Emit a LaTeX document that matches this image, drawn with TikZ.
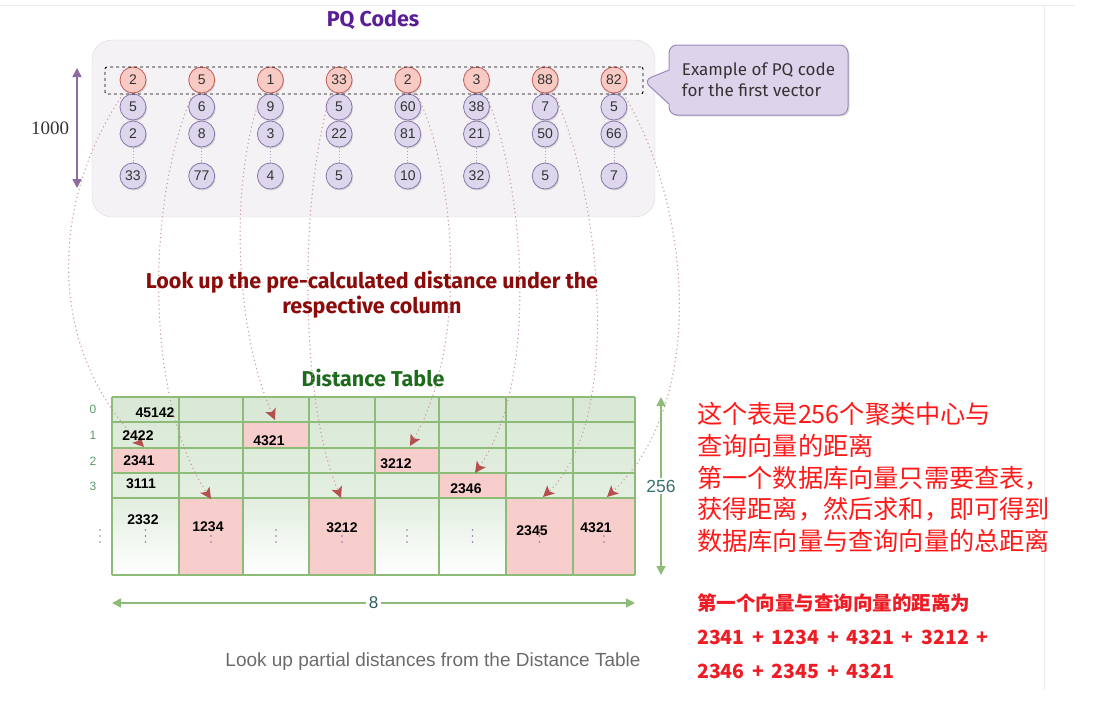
\documentclass[tikz,border=0pt]{standalone}
\usepackage{fontspec}
\setmainfont{Liberation Sans}
\newfontfamily\handfont{Fira Sans}
\newfontfamily\serifnum{Liberation Serif}
\newfontfamily\cjk{Noto Sans CJK SC}
\usepackage{xcolor}
\usepackage{tikz}
\usetikzlibrary{calc,arrows.meta,shapes.callouts,shadows}

\definecolor{pqpurple}{HTML}{5A1E96}
\definecolor{boxgray}{HTML}{F5F2F6}
\definecolor{boxedge}{HTML}{DDDADF}
\definecolor{codered}{HTML}{F8CAC4}
\definecolor{codeedge}{HTML}{C25A55}
\definecolor{lav}{HTML}{DDD6EC}
\definecolor{lavedge}{HTML}{8878A8}
\definecolor{notefill}{HTML}{DDD3EB}
\definecolor{noteedge}{HTML}{9D88BC}
\definecolor{sizepurple}{HTML}{8C6BA0}
\definecolor{lookred}{HTML}{8B0A0A}
\definecolor{tablegreen}{HTML}{8DBB78}
\definecolor{tablefill}{HTML}{D8E8D5}
\definecolor{hitpink}{HTML}{F8CECC}
\definecolor{titlegreen}{HTML}{1E6B1E}
\definecolor{dotred}{HTML}{C99A9A}
\definecolor{tipred}{HTML}{B5504E}
\definecolor{rowgreen}{HTML}{5A9A6A}
\definecolor{sizeteal}{HTML}{3A7070}
\definecolor{captiongray}{HTML}{6B6B6B}
\definecolor{cnred}{HTML}{FF1A1A}
\definecolor{cnbold}{HTML}{EE1C25}

\newcommand{\sumplus}{\hspace{7.7pt}+\hspace{7.7pt}}

\begin{document}
\begin{tikzpicture}[x=1pt, y=-1pt,
    code/.style={circle, minimum size=26pt, inner sep=0pt, line width=0.8pt,
      draw=lavedge, fill=lav, text=black!80, font=\fontsize{14}{14}\selectfont,
      drop shadow={shadow xshift=1pt, shadow yshift=-1.5pt, opacity=.25}},
    firstcode/.style={code, draw=codeedge, fill=codered},
    dist/.style={font=\fontsize{14}{14}\bfseries\selectfont, text=black, inner sep=0pt},
    lookup/.style={dotred, line width=1.5pt, dash pattern=on 0pt off 4.2pt, line cap=round,
      -{Stealth[length=11pt, width=11pt, inset=2.5pt, color=tipred]}},
    sizearrow/.style={line width=1.5pt, {Triangle[length=9pt, width=9pt]}-{Triangle[length=9pt, width=9pt]}},
  ]
  \useasboundingbox (0,0) rectangle (1096,712);

  %----------------------------------------------------
  % page edges
  %----------------------------------------------------
  \draw [black!8] (0,5) -- (1075,5);
  \draw [black!8] (1044,5) -- (1044,690);

  %----------------------------------------------------
  % PQ codes
  %----------------------------------------------------
  \node [font=\handfont\bfseries\fontsize{21.5}{21.5}\selectfont, text=pqpurple] (pqtitle) at (373,20) {PQ Codes};
  \node [draw=boxedge, fill=boxgray, rounded corners=20pt, minimum width=563pt, minimum height=177pt] (pqbox) at (373.5,128.5) {};

  \coordinate (ktop) at (77,68);
  \coordinate (kbot) at (77,188);
  \draw [sizearrow, sizepurple] (ktop) -- (kbot);
  \node [font=\serifnum\fontsize{19}{19}\selectfont, text=black!80] (kcount) at (50,128) {1000};

  %----------------------------------------------------
  % Distance table
  %----------------------------------------------------
  \node [font=\handfont\bfseries\fontsize{21.5}{21.5}\selectfont, text=titlegreen] (tabtitle) at (373,378) {Distance Table};
  \shade [top color=tablefill, bottom color=tablefill!70] (112,397) rectangle (635,498);
  \shade [top color=tablefill!75, bottom color=white] (112,498) rectangle (635,575);
  \foreach \xa/\xb/\ya/\yb in {112/179/448/473, 179/243/498/575, 243/309/422/448, 309/375/498/575,
      375/439/448/473, 439/506/473/498, 506/573/498/575, 573/635/498/575}
    \fill [hitpink] (\xa,\ya) rectangle (\xb,\yb);
  \foreach \x in {112,179,243,309,375,439,506,573,635}
    \draw [tablegreen, line width=1.3pt] (\x,397) -- (\x,575);
  \foreach \y in {397,422,448,473,498,575}
    \draw [tablegreen, line width=1.3pt] (112,\y) -- (635,\y);
  \foreach \x in {100,145.5,211,276,342,407,472.5,539.5,604}
    \foreach \y in {530,536,542}
      \fill [lavedge] (\x,\y) circle (0.9pt);
  \foreach \r/\y in {0/409,1/435,2/461,3/486}
    \node [text=rowgreen, font=\fontsize{12}{12}\selectfont] (row\r) at (93,\y) {\r};

  \coordinate (rtop) at (661,397);
  \coordinate (rbot) at (661,575);
  \draw [sizearrow, tablegreen] (rtop) -- (rbot) node [midway, fill=white, text=sizeteal, font=\fontsize{17.5}{17.5}\selectfont, inner sep=2pt] (rcount) {256};
  \coordinate (cleft) at (112,603);
  \coordinate (cright) at (635,603);
  \draw [sizearrow, tablegreen] (cleft) -- (cright) node [midway, fill=white, text=sizeteal!80!black, font=\fontsize{17}{17}\selectfont, inner sep=3pt] (ccount) {8};

  %----------------------------------------------------
  % look-up curves, from each first code to its cell
  %----------------------------------------------------
  \coordinate (t0) at (144,447);
  \coordinate (t1) at (211,499);
  \coordinate (t2) at (275,420);
  \coordinate (t3) at (341,498);
  \coordinate (t4) at (410,446);
  \coordinate (t5) at (475,473);
  \coordinate (t6) at (543,497);
  \coordinate (t7) at (607,497);

  \foreach \c/\ra/\rb/\rc/\rd in {0/2/5/2/33, 1/5/6/8/77, 2/1/9/3/4, 3/33/5/22/5,
      4/2/60/81/10, 5/3/38/21/32, 6/88/7/50/5, 7/82/5/66/7}{
    \draw [lavedge!70, dotted, thick] ({133+68.7*\c},140) -- ({133+68.7*\c},170);
    \node [firstcode] (c\c-0) at ({133+68.7*\c},80) {\ra};
    \node [code] (c\c-1) at ({133+68.7*\c},107) {\rb};
    \node [code] (c\c-2) at ({133+68.7*\c},134) {\rc};
    \node [code] (c\c-3) at ({133+68.7*\c},176) {\rd};
  }

  \draw [lookup] (c0-0.235) .. controls (55,190) and (40,340) .. (t0);
  \draw [lookup] (c1-0.235) .. controls (145,200) and (145,400) .. (t1);
  \draw [lookup] (c2-0.235) .. controls (228,180) and (235,330) .. (t2);
  \draw [lookup] (c3-0.235) .. controls (298,200) and (300,400) .. (t3);
  \draw [lookup] (c4-0.-55) .. controls (455,170) and (470,340) .. (t4);
  \draw [lookup] (c5-0.-55) .. controls (525,180) and (540,380) .. (t5);
  \draw [lookup] (c6-0.-55) .. controls (600,190) and (625,420) .. (t6);
  \draw [lookup] (c7-0.-55) .. controls (690,200) and (710,400) .. (t7);

  \node [draw, dashed, line width=0.9pt, rounded corners=2pt, minimum width=538pt, minimum height=27pt] (firstrow) at (374,80.5) {};
  \node [rectangle callout, callout absolute pointer={(firstrow.east)}, callout pointer width=34pt,
    draw=noteedge, fill=notefill, line width=1pt, rounded corners=8pt,
    minimum width=179pt, minimum height=70pt, align=left,
    font=\handfont\fontsize{17}{21}\selectfont, text=black!80,
    drop shadow={shadow xshift=1.5pt, shadow yshift=-1.5pt, opacity=.25}] (note) at (758.5,80) {Example of PQ code\\for the first vector};

  %----------------------------------------------------
  % distances written on the table
  %----------------------------------------------------
  \node [dist] (d0) at (155,413) {45142};
  \node [dist] (d1) at (138,436) {2422};
  \node [dist] (d2) at (139,461) {2341};
  \node [dist] (d3) at (141,484) {3111};
  \node [dist] (d4) at (143,520) {2332};
  \node [dist] (h1) at (208,527) {1234};
  \node [dist] (h2) at (269,441) {4321};
  \node [dist] (h3) at (342,528) {3212};
  \node [dist] (h4) at (396,464) {3212};
  \node [dist] (h5) at (466,489) {2346};
  \node [dist] (h6) at (532,531) {2345};
  \node [dist] (h7) at (596,528) {4321};

  %----------------------------------------------------
  % texts
  %----------------------------------------------------
  \node [font=\handfont\bfseries\fontsize{21.5}{25}\selectfont, text=lookred, align=center] (lookup) at (372,295) {Look up the pre-calculated distance under the\\respective column};
  \node [font=\fontsize{19}{19}\selectfont, text=captiongray] (caption) at (433,662) {Look up partial distances from the Distance Table};
  \node [font=\cjk\fontsize{25.2}{31.75}\selectfont, text=cnred, align=left, anchor=north west, inner sep=0pt] (explain) at (697,402)
    {这个表是256个聚类中心与\\查询向量的距离\\第一个数据库向量只需要查表，\\获得距离，然后求和，即可得到\\数据库向量与查询向量的总距离};
  \node [font=\cjk\bfseries\fontsize{19.5}{34}\selectfont, text=cnbold, align=left, anchor=north west, inner sep=0pt] (total) at (697,593)
    {第一个向量与查询向量的距离为\\2341\sumplus 1234\sumplus 4321\sumplus 3212\sumplus\\2346\sumplus 2345\sumplus 4321};
\end{tikzpicture}
\end{document}
